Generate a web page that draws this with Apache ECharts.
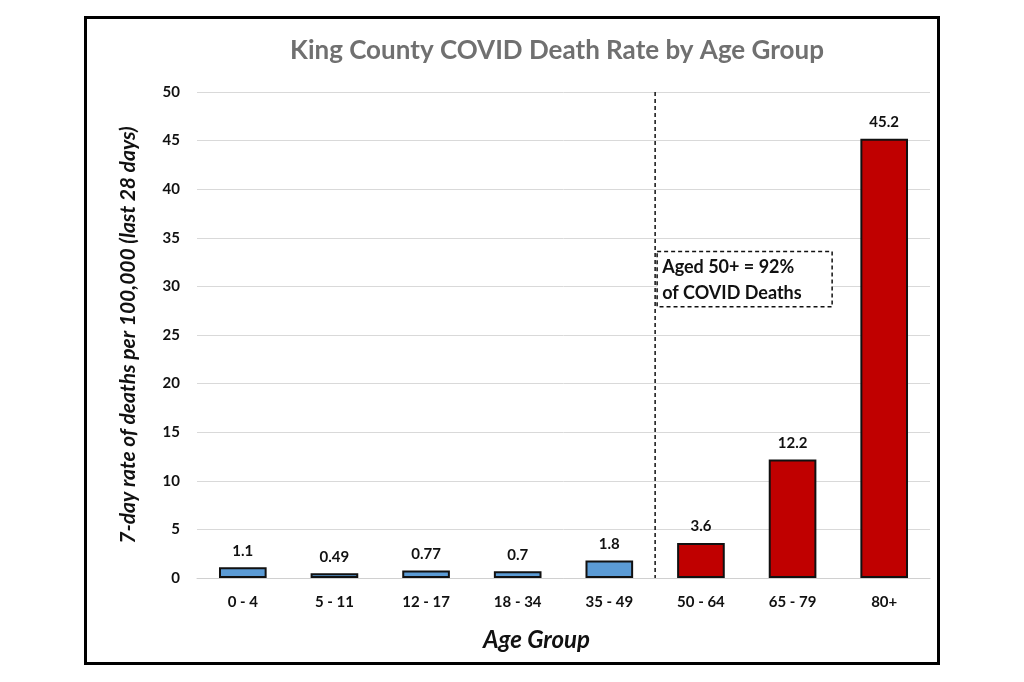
<!DOCTYPE html>
<html><head><meta charset="utf-8">
<script src="https://cdn.jsdelivr.net/npm/echarts@6/dist/echarts.min.js"></script>
<style>html,body{margin:0;padding:0;background:#fff}#c{width:1024px;height:682px}</style>
</head><body><div id="c"></div>
<script>
const categories = ['0 - 4','5 - 11','12 - 17','18 - 34','35 - 49','50 - 64','65 - 79','80+'];
const rates = [1.1, 0.49, 0.77, 0.7, 1.8, 3.6, 12.2, 45.2];
const rateLabels = ['1.1','0.49','0.77','0.7','1.8','3.6','12.2','45.2'];
const groupColors = ['#5b9bd5','#5b9bd5','#5b9bd5','#5b9bd5','#5b9bd5','#c00000','#c00000','#c00000'];
const titleText = 'King County COVID Death Rate by Age Group';
const yName = '7-day rate of deaths per 100,000 (last 28 days)';
const xName = 'Age Group';
const noteLines = ['Aged 50+ = 92%', 'of COVID Deaths'];

const FONT = 'Lato, "Open Sans", sans-serif';
const chart = echarts.init(document.getElementById('c'));
chart.setOption({
  animation: false,
  title: { text: titleText, left: 552, top: 33, textAlign: 'center',
    textStyle: { color: '#707070', fontSize: 26, fontWeight: 'bold', fontFamily: FONT } },
  grid: { left: 197, right: 94, top: 92, bottom: 104 },
  xAxis: { type: 'category', data: categories,
    name: xName, nameLocation: 'middle', nameGap: 50,
    nameTextStyle: { fontSize: 24, fontWeight: 'bold', fontStyle: 'italic', color: '#111', fontFamily: FONT,
      padding: [0, 54, 0, 0] },
    axisLine: { lineStyle: { color: '#d0d0d0' } }, axisTick: { show: false },
    axisLabel: { color: '#111', fontSize: 15, fontWeight: 'bold', margin: 17, fontFamily: FONT } },
  yAxis: { type: 'value', min: 0, max: 50, interval: 5,
    name: yName, nameLocation: 'middle', nameGap: 58, nameRotate: 90,
    nameTextStyle: { fontSize: 21, fontWeight: 'bold', fontStyle: 'italic', color: '#111', fontFamily: FONT },
    axisLine: { show: false }, axisTick: { show: false },
    splitLine: { lineStyle: { color: '#d9d9d9' } },
    axisLabel: { color: '#111', fontSize: 15, fontWeight: 'bold', margin: 17, fontFamily: FONT } },
  series: [{
    type: 'bar', barWidth: '52%',
    data: rates.map((v, i) => ({ value: v, itemStyle: { color: groupColors[i] } })),
    itemStyle: { borderColor: '#111', borderWidth: 2 },
    label: { show: true, position: 'top', distance: 9, color: '#111', fontSize: 15, fontWeight: 'bold',
      fontFamily: FONT, formatter: p => rateLabels[p.dataIndex] }
  }]
});

function drawGraphics() {
  const xDiv0 = chart.convertToPixel({ xAxisIndex: 0 }, categories[4]);
  const xDiv1 = chart.convertToPixel({ xAxisIndex: 0 }, categories[5]);
  const xDiv = (xDiv0 + xDiv1) / 2;
  const yTop = chart.convertToPixel({ yAxisIndex: 0 }, 50);
  const yBot = chart.convertToPixel({ yAxisIndex: 0 }, 0);
  const yBoxTop = chart.convertToPixel({ yAxisIndex: 0 }, 33.6);
  const yBoxBot = chart.convertToPixel({ yAxisIndex: 0 }, 27.9);
  chart.setOption({
    graphic: [
      { type: 'rect', shape: { x: 85.5, y: 17.5, width: 853, height: 646 },
        style: { fill: 'none', stroke: '#000', lineWidth: 3 }, silent: true },
      { type: 'line', shape: { x1: xDiv, y1: yTop, x2: xDiv, y2: yBot },
        style: { stroke: '#111', lineWidth: 1.5, lineDash: [4, 3] }, silent: true },
      { type: 'rect', shape: { x: xDiv + 2, y: yBoxTop, width: 175, height: yBoxBot - yBoxTop },
        style: { fill: '#fff', stroke: '#111', lineWidth: 1.5, lineDash: [4, 3] }, silent: true },
      { type: 'text', x: xDiv + 7, y: yBoxTop + 3,
        style: { text: noteLines.join('\n'), fill: '#111', fontSize: 18, fontWeight: 'bold',
          fontFamily: FONT, lineHeight: 26 }, silent: true }
    ]
  });
}
drawGraphics();
</script></body></html>
